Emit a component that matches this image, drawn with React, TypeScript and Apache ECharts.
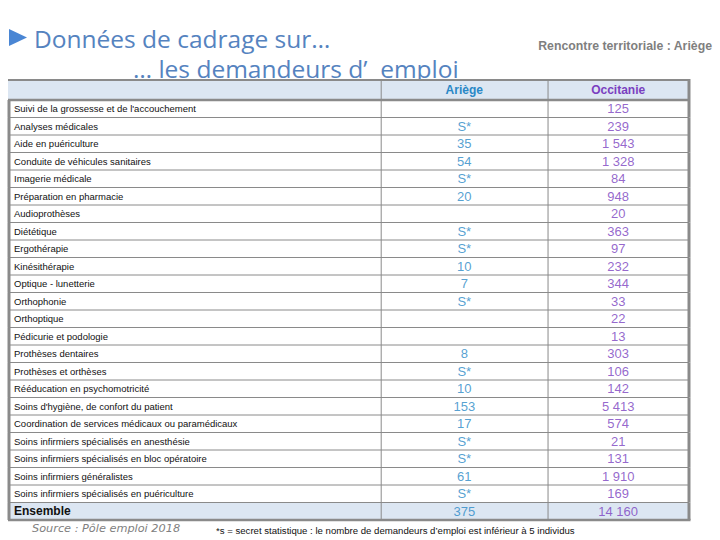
import React, { useEffect, useRef } from "react";
import * as echarts from "echarts";

const rowLabels: string[] = [
  "Suivi de la grossesse et de l'accouchement",
  "Analyses médicales",
  "Aide en puériculture",
  "Conduite de véhicules sanitaires",
  "Imagerie médicale",
  "Préparation en pharmacie",
  "Audioprothèses",
  "Diététique",
  "Ergothérapie",
  "Kinésithérapie",
  "Optique - lunetterie",
  "Orthophonie",
  "Orthoptique",
  "Pédicurie et podologie",
  "Prothèses dentaires",
  "Prothèses et orthèses",
  "Rééducation en psychomotricité",
  "Soins d'hygiène, de confort du patient",
  "Coordination de services médicaux ou paramédicaux",
  "Soins infirmiers spécialisés en anesthésie",
  "Soins infirmiers spécialisés en bloc opératoire",
  "Soins infirmiers généralistes",
  "Soins infirmiers spécialisés en puériculture",
  "Ensemble",
];

const ariegeValues: (number | string | null)[] = [
  null, "S*", 35, 54, "S*", 20, null, "S*", "S*", 10, 7, "S*", null, null,
  8, "S*", 10, 153, 17, "S*", "S*", 61, "S*", 375,
];

const occitanieValues: number[] = [
  125, 239, 1543, 1328, 84, 948, 20, 363, 97, 232, 344, 33, 22, 13,
  303, 106, 142, 5413, 574, 21, 131, 1910, 169, 14160,
];

const columnHeaders: string[] = ["Ariège", "Occitanie"];

// layout (percent of table width)
const X_EDGES = [0, 54.8, 79.3, 100];
const X_CENTERS = [67.0, 89.6];
const GRID = { left: 8, right: 31, top: 100, bottom: 20 };
const TABLE_W = 720 - GRID.left - GRID.right;
const px = (p: number) => GRID.left + (TABLE_W * p) / 100;

const BLUE = "#2a88c6";
const PURPLE = "#7a3fc0";
const BORDER = "#8a8a8a";
const BAND = "#dce6f2";
const FONT = "'Liberation Sans', Arial, sans-serif";

const fmt = (v: number | string) => {
  if (typeof v === "string") return v;
  const s = String(v);
  return s.replace(/\B(?=(\d{3})+(?!\d))/g, " ");
};

export default function App() {
  const ref = useRef<HTMLDivElement>(null);
  useEffect(() => {
    if (!ref.current) return;
    const chart = echarts.init(ref.current, undefined, { renderer: "svg" });
    const last = rowLabels.length - 1;

    const option: any = {
      animation: false,
      backgroundColor: "#ffffff",
      grid: { ...GRID, containLabel: false },
      xAxis: { type: "value", min: 0, max: 100, show: false },
      yAxis: {
        type: "category",
        inverse: true,
        data: rowLabels.map((r, i) =>
          i === last
            ? { value: r, textStyle: { fontWeight: "bold", fontSize: 12, color: "#111" } }
            : r
        ),
        axisLine: { show: false },
        axisTick: { show: false },
        splitLine: { show: false },
        axisLabel: {
          inside: true,
          margin: 6,
          fontSize: 9.5,
          color: "#111",
          fontFamily: FONT,
        },
        z: 5,
      },
      graphic: [
        {
          type: "polygon",
          shape: { points: [[9, 29], [9, 46], [27, 37.5]] },
          style: { fill: "#4a86d4" },
        },
        {
          type: "text",
          x: 34,
          y: 38,
          style: {
            text: "Données de cadrage sur…",
            fill: "#5583bf",
            font: "24.5px 'Open Sans', sans-serif",
            verticalAlign: "middle",
          },
        },
        {
          type: "text",
          x: 133,
          y: 68,
          style: {
            text: "… les demandeurs d’  emploi",
            fill: "#5583bf",
            font: "24.5px 'Open Sans', sans-serif",
            verticalAlign: "middle",
          },
        },
        {
          type: "text",
          x: 712,
          y: 46,
          style: {
            text: "Rencontre territoriale : Ariège",
            fill: "#7f7f7f",
            font: "bold 12.3px 'Liberation Sans', sans-serif",
            align: "right",
            verticalAlign: "middle",
          },
        },
        {
          type: "group",
          z: 10,
          children: [
            {
              type: "rect",
              shape: { x: GRID.left, y: 80, width: TABLE_W, height: 19 },
              style: { fill: BAND },
            },
            {
              type: "line",
              shape: { x1: GRID.left, y1: 80, x2: px(100) + 1, y2: 80 },
              style: { stroke: BORDER, lineWidth: 2 },
            },
            {
              type: "line",
              shape: { x1: px(X_EDGES[1]), y1: 80, x2: px(X_EDGES[1]), y2: 100 },
              style: { stroke: BORDER, lineWidth: 1 },
            },
            {
              type: "line",
              shape: { x1: px(X_EDGES[2]), y1: 80, x2: px(X_EDGES[2]), y2: 100 },
              style: { stroke: BORDER, lineWidth: 1 },
            },
            {
              type: "line",
              shape: { x1: px(100), y1: 79, x2: px(100), y2: 100 },
              style: { stroke: BORDER, lineWidth: 3 },
            },
            {
              type: "text",
              x: px(X_CENTERS[0]),
              y: 90,
              style: {
                text: columnHeaders[0],
                fill: BLUE,
                font: `bold 12px ${FONT}`,
                align: "center",
                verticalAlign: "middle",
              },
            },
            {
              type: "text",
              x: px(X_CENTERS[1]),
              y: 90,
              style: {
                text: columnHeaders[1],
                fill: PURPLE,
                font: `bold 12px ${FONT}`,
                align: "center",
                verticalAlign: "middle",
              },
            },
          ],
        },
        {
          type: "text",
          x: 32,
          y: 528,
          style: {
            text: "Source : Pôle emploi 2018",
            fill: "#808080",
            font: "italic 11.3px 'DejaVu Sans', sans-serif",
            verticalAlign: "middle",
          },
        },
        {
          type: "text",
          x: 216,
          y: 530,
          style: {
            text: "*s = secret statistique : le nombre de demandeurs d’emploi est inférieur à 5 individus",
            fill: "#111",
            font: `9.6px ${FONT}`,
            verticalAlign: "middle",
          },
        },
      ],
      series: [
        {
          type: "custom",
          data: rowLabels.map((_, i) => [0, i]),
          renderItem: (params: any, api: any) => {
            const i = api.value(1);
            const c = api.coord([0, i]);
            const h = api.size([0, 1])[1];
            const yTop = c[1] - h / 2;
            const yBot = c[1] + h / 2;
            const xL = api.coord([X_EDGES[0], i])[0];
            const xR = api.coord([X_EDGES[3], i])[0];
            const children: any[] = [];
            if (i === last) {
              children.push({
                type: "rect",
                shape: { x: xL, y: yTop, width: xR - xL, height: h },
                style: { fill: BAND },
              });
            }
            children.push({
              type: "line",
              shape: { x1: xL, y1: yTop, x2: xR, y2: yTop },
              style: { stroke: BORDER, lineWidth: i === 0 ? 2.5 : 1 },
            });
            if (i === last) {
              children.push({
                type: "line",
                shape: { x1: xL, y1: yBot, x2: xR + 1.5, y2: yBot },
                style: { stroke: BORDER, lineWidth: 2.5 },
              });
            }
            X_EDGES.forEach((e, k) => {
              const x = api.coord([e, i])[0];
              const edge = k === 0 || k === X_EDGES.length - 1;
              children.push({
                type: "line",
                shape: { x1: x + (k === 0 ? 1 : 0), y1: yTop, x2: x + (k === 0 ? 1 : 0), y2: yBot },
                style: { stroke: BORDER, lineWidth: edge ? 3 : 1 },
              });
            });
            return { type: "group", children };
          },
          silent: true,
          z: 1,
        },
        {
          type: "scatter",
          name: columnHeaders[0],
          symbolSize: 1,
          itemStyle: { color: "rgba(0,0,0,0)" },
          data: ariegeValues
            .map((v, i) => (v === null ? null : [X_CENTERS[0], i, fmt(v)]))
            .filter((d) => d !== null),
          label: {
            show: true,
            position: "inside",
            formatter: (p: any) => p.value[2],
            color: BLUE,
            fontSize: 13,
            fontFamily: FONT,
          },
          z: 3,
        },
        {
          type: "scatter",
          name: columnHeaders[1],
          symbolSize: 1,
          itemStyle: { color: "rgba(0,0,0,0)" },
          data: occitanieValues.map((v, i) => [X_CENTERS[1], i, fmt(v)]),
          label: {
            show: true,
            position: "inside",
            formatter: (p: any) => p.value[2],
            color: PURPLE,
            fontSize: 13,
            fontFamily: FONT,
          },
          z: 3,
        },
      ],
    };
    chart.setOption(option);
    return () => chart.dispose();
  }, []);

  return (
    <div
      ref={ref}
      style={{ position: "fixed", left: 0, top: 0, width: 720, height: 540 }}
    />
  );
}
